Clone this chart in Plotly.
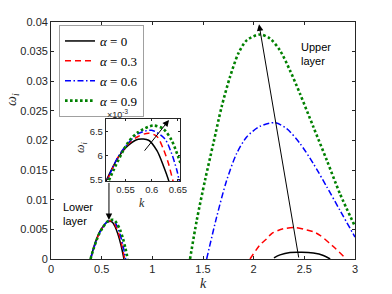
import plotly.graph_objects as go

# ---------------- data ----------------
alpha_labels = ["0", "0.3", "0.6", "0.9"]

# lower-layer branch
k_low_a0 = [0.39, 0.42, 0.45, 0.48, 0.512, 0.536, 0.555, 0.574, 0.594, 0.610, 0.622, 0.633, 0.66, 0.69, 0.72]
w_low_a0 = [0, 1.85e-3, 3.4e-3, 4.6e-3, 5.45e-3, 5.96e-3, 6.21e-3, 6.34e-3, 6.32e-3, 6.10e-3, 5.79e-3, 5.45e-3, 4.2e-3, 2.4e-3, 0]

k_low_a3 = [0.39, 0.42, 0.45, 0.48, 0.514, 0.536, 0.555, 0.574, 0.594, 0.610, 0.622, 0.632, 0.641, 0.66, 0.69, 0.727]
w_low_a3 = [0, 1.76e-3, 3.25e-3, 4.45e-3, 5.45e-3, 5.97e-3, 6.24e-3, 6.40e-3, 6.47e-3, 6.40e-3, 6.14e-3, 5.83e-3, 5.45e-3, 4.75e-3, 3.0e-3, 0]

k_low_a6 = [0.39, 0.42, 0.45, 0.48, 0.514, 0.536, 0.555, 0.574, 0.600, 0.625, 0.638, 0.648, 0.653, 0.68, 0.71, 0.737]
w_low_a6 = [0, 1.73e-3, 3.2e-3, 4.4e-3, 5.45e-3, 5.98e-3, 6.26e-3, 6.46e-3, 6.53e-3, 6.35e-3, 6.04e-3, 5.69e-3, 5.45e-3, 4.3e-3, 2.3e-3, 0]

k_low_a9 = [0.39, 0.42, 0.45, 0.48, 0.517, 0.555, 0.574, 0.603, 0.622, 0.638, 0.651, 0.68, 0.71, 0.735, 0.757]
w_low_a9 = [0, 1.72e-3, 3.19e-3, 4.4e-3, 5.45e-3, 6.28e-3, 6.49e-3, 6.63e-3, 6.56e-3, 6.32e-3, 5.96e-3, 5.0e-3, 3.47e-3, 1.8e-3, 0]

# upper-layer branch
k_up_a0 = [2.2, 2.26, 2.359, 2.474, 2.589, 2.688, 2.755]
w_up_a0 = [0.0002, 0.0007, 0.0011, 0.00115, 0.0010, 0.0006, 0.0]

k_up_a3 = [1.964, 2.063, 2.128, 2.178, 2.293, 2.415, 2.523, 2.589, 2.655, 2.753, 2.786, 2.915]
w_up_a3 = [0, 0.0024, 0.0034, 0.0043, 0.0051, 0.0053, 0.0049, 0.0046, 0.0040, 0.0026, 0.0021, 0]

k_up_a6 = [1.536, 1.635, 1.734, 1.832, 1.931, 2.063, 2.211, 2.326, 2.457, 2.589, 2.721, 2.852, 3.0]
w_up_a6 = [0, 0.0071, 0.0133, 0.0178, 0.0206, 0.0224, 0.0230, 0.0220, 0.0195, 0.0161, 0.0122, 0.0082, 0.0037]

k_up_a9 = [1.372, 1.438, 1.520, 1.602, 1.684, 1.766, 1.849, 1.931, 2.063, 2.161, 2.260, 2.359, 2.457, 2.589, 2.721, 2.852, 3.0]
w_up_a9 = [0, 0.0065, 0.0133, 0.0195, 0.0257, 0.0307, 0.0347, 0.0369, 0.0379, 0.0372, 0.0352, 0.0318, 0.0279, 0.0223, 0.0167, 0.0110, 0.0055]

# axis ticks
x_ticks = [0, 0.5, 1, 1.5, 2, 2.5, 3]
x_ticklabels = ["0", "0.5", "1", "1.5", "2", "2.5", "3"]
y_ticks = [0, 0.005, 0.01, 0.015, 0.02, 0.025, 0.03, 0.035, 0.04]
y_ticklabels = ["0", "0.005", "0.01", "0.015", "0.02", "0.025", "0.03", "0.035", "0.04"]
inset_x_ticks = [0.55, 0.6, 0.65]
inset_x_ticklabels = ["0.55", "0.6", "0.65"]
inset_y_ticks = [0.0055, 0.006, 0.0065]
inset_y_ticklabels = ["5.5", "6", "6.5"]

# arrows (tail -> head)
arrow_upper = (2.447, 0.0, 2.053, 0.0396)
arrow_lower = (0.572, 0.0131, 0.572, 0.0066)
arrow_inset = (0.584, 0.00607, 0.633, 0.006746)

# ---------------- figure ----------------
series = [
    (k_low_a0, w_low_a0, k_up_a0, w_up_a0),
    (k_low_a3, w_low_a3, k_up_a3, w_up_a3),
    (k_low_a6, w_low_a6, k_up_a6, w_up_a6),
    (k_low_a9, w_low_a9, k_up_a9, w_up_a9),
]
styles = [
    dict(color="#000000", width=1.5, dash="solid"),
    dict(color="#ff0000", width=1.5, dash="6px,4px"),
    dict(color="#0000ff", width=1.5, dash="6px,2.5px,1.5px,2.5px"),
    dict(color="#008000", width=2.6, dash="2.6px,2.4px"),
]

fig = go.Figure()
for (kl, wl, ku, wu), st, lab in zip(series, styles, alpha_labels):
    fig.add_trace(go.Scatter(
        x=kl + [None] + ku, y=wl + [None] + wu, mode="lines",
        line=dict(color=st["color"], width=st["width"], dash=st["dash"], shape="spline", smoothing=0.8),
        name="<i>α</i> = " + lab, xaxis="x", yaxis="y"))
for (kl, wl, ku, wu), st in zip(series, styles):
    fig.add_trace(go.Scatter(
        x=kl, y=wl, mode="lines",
        line=dict(color=st["color"], width=st["width"], dash=st["dash"], shape="spline", smoothing=0.8),
        showlegend=False, xaxis="x2", yaxis="y2"))

axcol = "#262626"
tickfont = dict(family="Liberation Sans, Arial, sans-serif", size=11, color=axcol)
insetfont = dict(family="Liberation Sans, Arial, sans-serif", size=9.5, color=axcol)
common = dict(showline=True, linecolor=axcol, linewidth=0.8, mirror="ticks", ticks="inside",
              tickcolor=axcol, tickwidth=0.8, showgrid=False, zeroline=False, automargin=False)

W, H = 392, 294
L, R, T, B = 51, 37, 22, 35
pw, ph = W - L - R, H - T - B

def px2paper(x, y):
    return (x - L) / pw, (H - B - y) / ph

ix0, iy0 = px2paper(105.7, 181)
ix1, iy1 = px2paper(180, 119)

fig.update_layout(
    width=W, height=H, margin=dict(l=L, r=R, t=T, b=B, autoexpand=False),
    paper_bgcolor="white", plot_bgcolor="white",
    xaxis=dict(range=[0, 3], tickvals=x_ticks, ticktext=x_ticklabels, ticklen=3, tickfont=tickfont,
               domain=[0, 1], **common),
    yaxis=dict(range=[0, 0.04], tickvals=y_ticks, ticktext=y_ticklabels, ticklen=3, tickfont=tickfont,
               domain=[0, 1], **common),
    xaxis2=dict(range=[0.512, 0.654], tickvals=inset_x_ticks, ticktext=inset_x_ticklabels, ticklen=2,
                tickfont=insetfont, domain=[ix0, ix1], anchor="y2", **common),
    yaxis2=dict(range=[0.005464, 0.006767], tickvals=inset_y_ticks, ticktext=inset_y_ticklabels, ticklen=2,
                tickfont=insetfont, domain=[iy0, iy1], anchor="x2", **common),
    legend=dict(x=px2paper(59, 25)[0], y=px2paper(59, 25)[1], xanchor="left", yanchor="top",
                bgcolor="white", bordercolor="#a0a0a0", borderwidth=1,
                font=dict(family="Liberation Serif, serif", size=13, color="black"),
                tracegroupgap=0),
    showlegend=True,
)

ann = []
for (ax_, ay_, x_, y_), ref in [(arrow_upper, ("x", "y")), (arrow_lower, ("x", "y")), (arrow_inset, ("x2", "y2"))]:
    ann.append(dict(x=x_, y=y_, ax=ax_, ay=ay_, xref=ref[0], yref=ref[1], axref=ref[0], ayref=ref[1],
                    showarrow=True, arrowhead=2, arrowsize=1.3, arrowwidth=1, arrowcolor="black", text=""))

sans = dict(family="Liberation Sans, Arial, sans-serif", size=11, color="black")
ann.append(dict(x=2.45, y=0.0372, xref="x", yref="y", text="Upper<br>layer", showarrow=False,
                xanchor="left", yanchor="top", align="left", font=sans))
ann.append(dict(x=0.1, y=0.0101, xref="x", yref="y", text="Lower<br>layer", showarrow=False,
                xanchor="left", yanchor="top", align="left", font=sans))

serif = dict(family="Liberation Serif, serif", size=14, color=axcol)
serif_s = dict(family="Liberation Serif, serif", size=12, color=axcol)
def label(px, py, text, font, angle=0, xa="center"):
    x, y = px2paper(px, py)
    return dict(x=x, y=y, xref="paper", yref="paper", text=text, showarrow=False, textangle=angle,
                xanchor=xa, yanchor="middle", font=font)

ann.append(label(203, 283, "<i>k</i>", serif))
ann.append(label(12, 100, "<i>ω</i><sub><i>i</i></sub>", serif, -90))
ann.append(label(142, 203, "<i>k</i>", serif_s))
ann.append(label(81, 148, "<i>ω</i><sub><i>i</i></sub>", serif_s, -90))
ann.append(label(105, 114, "×10<sup>-3</sup>",
                 dict(family="Liberation Sans, Arial, sans-serif", size=9, color=axcol), xa="left"))
fig.update_layout(annotations=ann)

fig.write_html("out.html", config={"displayModeBar": False},
               post_script="document.body.style.margin='0';document.body.style.padding='0';")
